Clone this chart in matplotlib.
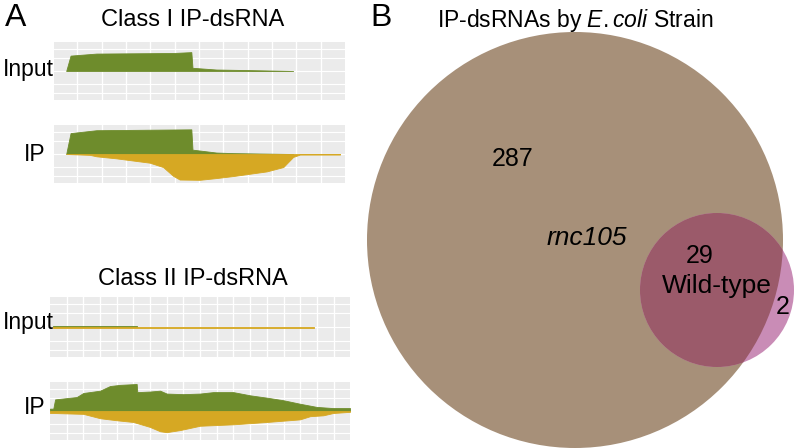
import matplotlib.pyplot as plt
from matplotlib.patches import Circle

plt.rcParams["font.family"] = ["Liberation Sans", "DejaVu Sans"]
plt.rcParams["mathtext.fontset"] = "custom"
plt.rcParams["mathtext.rm"] = "Liberation Sans"
plt.rcParams["mathtext.it"] = "Liberation Sans:italic"

# coverage tracks: position along transcript (0-100) and read depth
# (positive = forward strand, negative = reverse strand)
c1_input_fwd_x = [4.2, 5.7, 14.6, 40.9, 47.2, 47.6, 55.8, 67.3, 82.2]
c1_input_fwd_y = [0.0, 0.53, 0.60, 0.62, 0.65, 0.11, 0.05, 0.03, 0.0]

c1_ip_fwd_x = [4.2, 5.7, 14.6, 47.2, 47.6, 55.8, 61.6, 82.2]
c1_ip_fwd_y = [0.0, 0.72, 0.82, 0.85, 0.15, 0.05, 0.03, 0.0]
c1_ip_rev_x = [4.2, 12.3, 14.6, 21.4, 32.9, 37.5, 40.9, 43.2, 50.1, 55.8,
               61.6, 73.1, 78.8, 82.2, 84.5, 98.3]
c1_ip_rev_y = [0.0, -0.03, -0.08, -0.15, -0.30, -0.45, -0.75, -0.88, -0.89,
               -0.83, -0.76, -0.60, -0.45, -0.10, -0.02, -0.02]

c2_input_fwd_x = [1.1, 29.0]
c2_input_fwd_y = [0.03, 0.03]
c2_input_rev_x = [1.1, 88.0]
c2_input_rev_y = [-0.02, -0.02]

c2_ip_fwd_x = [0.0, 1.1, 1.7, 8.9, 11.1, 16.7, 20.0, 23.3, 28.9, 29.1, 33.3,
               36.7, 38.9, 44.4, 50.0, 54.4, 61.1, 66.7, 72.2, 77.8, 83.3,
               88.9, 94.4, 100.0]
c2_ip_fwd_y = [0.08, 0.08, 0.40, 0.48, 0.62, 0.70, 0.86, 0.90, 0.93, 0.65,
               0.67, 0.70, 0.60, 0.58, 0.60, 0.65, 0.65, 0.54, 0.46, 0.37,
               0.25, 0.14, 0.10, 0.10]
c2_ip_rev_x = [0.0, 1.1, 11.1, 16.7, 22.2, 27.8, 33.3, 36.7, 38.9, 43.3,
               50.0, 61.1, 72.2, 83.3, 86.7, 91.1, 94.4, 100.0]
c2_ip_rev_y = [-0.07, -0.07, -0.10, -0.25, -0.32, -0.38, -0.55, -0.70, -0.73,
               -0.66, -0.51, -0.46, -0.38, -0.29, -0.18, -0.15, -0.07, -0.03]

# venn counts
venn_only_rnc = 287
venn_both = 29
venn_only_wt = 2

GREEN = "#6E8C2C"
GOLD = "#D6A823"
BG = "#EBEBEB"


def track(ax, fx, fy, rx=None, ry=None, vstep=8.37, vstart=8.0):
    ax.set_facecolor(BG)
    ax.set_xlim(0, 100)
    ax.set_ylim(-1, 1)
    v = vstart
    while v < 100:
        ax.axvline(v, color="white", lw=1.0, zorder=0)
        v += vstep
    for h in [-0.75, -0.45, 0.0, 0.45, 0.75]:
        ax.axhline(h, color="white", lw=0.8, zorder=0)
    ax.fill_between(fx, 0, fy, color=GREEN, lw=0.6, zorder=2)
    if rx is not None:
        ax.fill_between(rx, ry, 0, color=GOLD, lw=0.6, zorder=2)
    ax.set_xticks([])
    ax.set_yticks([])
    for s in ax.spines.values():
        s.set_visible(False)


fig = plt.figure(figsize=(7.96, 4.48), dpi=100)

ax1 = fig.add_axes([0.0678, 0.7768, 0.3656, 0.1295])
track(ax1, c1_input_fwd_x, c1_input_fwd_y)
ax2 = fig.add_axes([0.0678, 0.5915, 0.3656, 0.1295])
track(ax2, c1_ip_fwd_x, c1_ip_fwd_y, c1_ip_rev_x, c1_ip_rev_y)

ax3 = fig.add_axes([0.0628, 0.2031, 0.3769, 0.134])
track(ax3, c2_input_fwd_x, c2_input_fwd_y, c2_input_rev_x, c2_input_rev_y,
      vstep=5.56, vstart=5.56)
ax4 = fig.add_axes([0.0628, 0.0179, 0.3769, 0.1295])
track(ax4, c2_ip_fwd_x, c2_ip_fwd_y, c2_ip_rev_x, c2_ip_rev_y,
      vstep=5.56, vstart=5.56)

fig.text(0.006, 0.96, "A", fontsize=23, va="center")
fig.text(0.242, 0.955, "Class I IP-dsRNA", fontsize=17, ha="center", va="center")
fig.text(0.242, 0.378, "Class II IP-dsRNA", fontsize=17, ha="center", va="center")
fig.text(0.003, 0.845, "Input", fontsize=16.5, va="center")
fig.text(0.03, 0.655, "IP", fontsize=16.5, va="center")
fig.text(0.003, 0.28, "Input", fontsize=16.5, va="center")
fig.text(0.03, 0.09, "IP", fontsize=16.5, va="center")

# Venn diagram, in pixel-like units
axv = fig.add_axes([360 / 796, 0, 436 / 796, 1])
axv.set_xlim(360, 796)
axv.set_ylim(448, 0)
axv.set_aspect("equal")
axv.axis("off")

big = Circle((575, 240), 208, color="#A79079", lw=0, zorder=1)
axv.add_patch(big)
small = Circle((717, 290), 77, color="#C98CB6", lw=0, zorder=2)
axv.add_patch(small)
inter = Circle((717, 290), 77, color="#9B5A6A", lw=0, zorder=3)
axv.add_patch(inter)
inter.set_clip_path(big)

axv.text(513, 159, str(venn_only_rnc), fontsize=18, ha="center", va="center", zorder=5)
axv.text(587, 238, "rnc105", fontsize=19, style="italic", ha="center", va="center", zorder=5)
axv.text(700, 256, str(venn_both), fontsize=18, ha="center", va="center", zorder=5)
axv.text(717, 286, "Wild-type", fontsize=19, ha="center", va="center", zorder=5)
axv.text(783, 307, str(venn_only_wt), fontsize=18, ha="center", va="center", zorder=5)

fig.text(370 / 796, 0.96, "B", fontsize=23, va="center")
fig.text(575 / 796, 0.955, r"IP-dsRNAs by $\it{E.coli}$ Strain", fontsize=16.5,
         ha="center", va="center")

fig.savefig("out.png", dpi=100)
